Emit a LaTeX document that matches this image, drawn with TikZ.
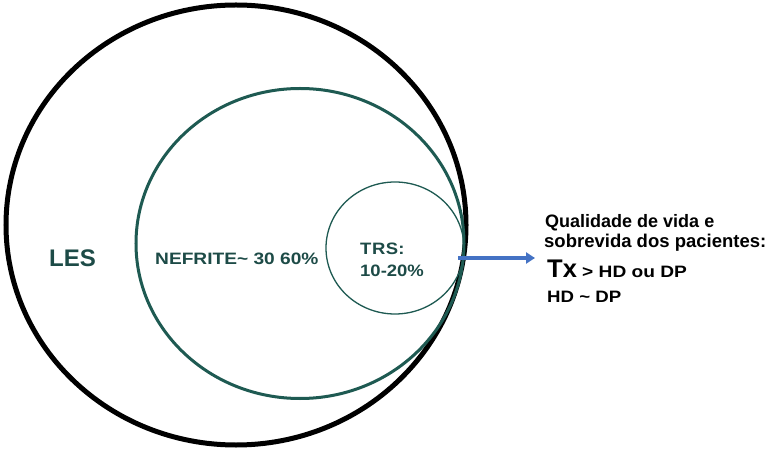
\documentclass[tikz,border=0pt]{standalone}
\usepackage{fontspec}
\setmainfont{Liberation Sans}
\usetikzlibrary{arrows.meta,shapes.geometric}
\definecolor{tealtxt}{HTML}{1D4B47}
\definecolor{ellc}{HTML}{1E5A52}
\definecolor{arrc}{HTML}{4472C4}
\newcommand{\fsz}[1]{\fontsize{#1}{#1}\selectfont}
\tikzset{
  ell/.style={ellipse, inner sep=0pt, outer sep=0pt},
  lab/.style={anchor=base west, inner sep=0pt, font=\bfseries, text=tealtxt},
  rtxt/.style={anchor=base west, inner sep=0pt, font=\bfseries, text=black},
  arrowline/.style={draw=arrc, line width=3.5bp, -{Triangle[length=9bp,width=11bp]}},
}
\begin{document}
\begin{tikzpicture}[x=1bp,y=-1bp]
\useasboundingbox[fill=white] (0,0) rectangle (771,451);
\node[ell, draw=black, line width=5bp, minimum width=460bp, minimum height=440bp] (les) at (236,225) {};
\node[ell, draw=ellc, line width=3bp, minimum width=328bp, minimum height=310bp] (nef) at (300,243.5) {};
\node[ell, draw=ellc, line width=1.3bp, minimum width=138bp, minimum height=132bp] (trs) at (395,248) {};

\node[lab, font=\bfseries\fsz{24bp}] (lesl) at (49,267) {LES};
\node[lab, font=\bfseries\fsz{16.5bp}] (nefl) at (155,265) {\scalebox{1.16}[1]{NEFRITE\char`\~\ 30 60\%}};
\node[lab, font=\bfseries\fsz{16.5bp}] (trsl1) at (360,255) {\scalebox{1.12}[1]{T\kern0.5bp R\kern0.5bp S:}};
\node[lab, font=\bfseries\fsz{16.5bp}] (trsl2) at (360,277) {\scalebox{1.12}[1]{10-20\%}};

\node[rtxt, font=\bfseries\fsz{18bp}] (q1) at (545,228) {Qualidade de vida e};
\node[rtxt, font=\bfseries\fsz{18.5bp}] (q2) at (544,248) {sobrevida dos pacientes:};
\node[rtxt, font=\bfseries\fsz{25.5bp}] (q3a) at (547,278) {Tx};
\node[rtxt, font=\bfseries\fsz{16.5bp}] (q3b) at (582,278) {\scalebox{1.16}[1]{\char`\>{} HD ou DP}};
\node[rtxt, font=\bfseries\fsz{16.5bp}] (q4) at (547,303) {\scalebox{1.13}[1]{HD \char`\~{} DP}};

\coordinate (as) at (458,258);
\coordinate (ae) at (535,258);
\draw[arrowline] (as) -- (ae);
\end{tikzpicture}
\end{document}
